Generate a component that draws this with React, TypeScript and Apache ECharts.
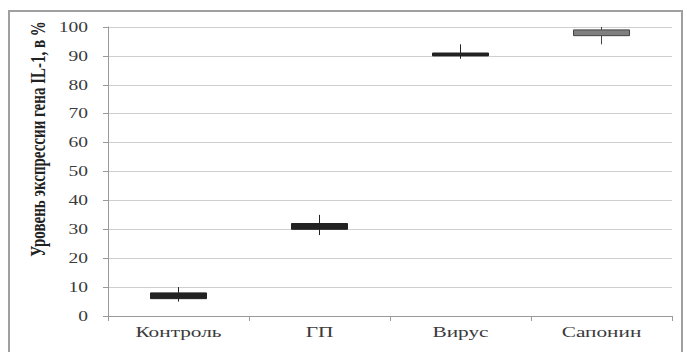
import React, { useEffect, useRef } from "react";
import * as echarts from "echarts";

const categories = ["Контроль", "ГП", "Вирус", "Сапонин"];
// [open (box bottom), close (box top), low (whisker), high (whisker)]
const boxValues: number[][] = [
  [6, 8, 5, 10],
  [30, 32, 28, 35],
  [90, 91, 89, 94],
  [97, 99, 94, 100],
];
const boxColors = ["#222222", "#222222", "#222222", "#7f7f7f"];
const boxBorders = ["#222222", "#222222", "#222222", "#444444"];
const yTickLabels = [0, 10, 20, 30, 40, 50, 60, 70, 80, 90, 100];
const yTicks = { min: 0, max: 100, interval: 10 };
const yTitle = "Уровень экспрессии гена IL-1, в %";

export default function App() {
  const ref = useRef<HTMLDivElement>(null);
  useEffect(() => {
    if (!ref.current) return;
    const chart = echarts.init(ref.current, undefined, { renderer: "svg" });
    const serif = "Liberation Serif";
    chart.setOption({
      animation: false,
      backgroundColor: "#ffffff",
      textStyle: { fontFamily: serif },
      grid: { left: 108, right: 15, top: 27, bottom: 36 },
      xAxis: {
        type: "category",
        data: categories,
        axisLine: { show: true, lineStyle: { color: "#9a9a9a" } },
        axisTick: { show: true, alignWithLabel: false, length: 5, lineStyle: { color: "#9a9a9a" } },
        axisLabel: { show: false },
        splitLine: { show: false },
      },
      yAxis: {
        type: "value",
        min: yTicks.min,
        max: yTicks.max,
        interval: yTicks.interval,
        axisLine: { show: true, lineStyle: { color: "#9a9a9a" } },
        axisTick: { show: true, length: 5, lineStyle: { color: "#9a9a9a" } },
        axisLabel: { show: false },
        splitLine: { show: true, lineStyle: { color: "#cfcfcf", width: 1 } },
      },
      series: [
        {
          type: "candlestick",
          barWidth: 57,
          data: boxValues.map((v, i) => ({
            value: v,
            itemStyle: {
              color: boxColors[i],
              color0: boxColors[i],
              borderColor: boxBorders[i],
              borderColor0: boxBorders[i],
              borderWidth: 1,
            },
          })),
        },
      ],
    });

    const labelStyle = { fontFamily: serif, fontSize: 15, fill: "#3a3a3a" };
    const xLabelY = (chart.convertToPixel({ yAxisIndex: 0 }, 0) as number) + 16;
    const xLabels = categories.map((c, i) => ({
      type: "text",
      id: "xl" + i,
      x: chart.convertToPixel({ xAxisIndex: 0 }, c) as number,
      y: xLabelY,
      scaleX: 1.42,
      style: { ...labelStyle, text: c, align: "center", verticalAlign: "middle" },
      silent: true,
    }));
    const leftX = 108;
    const yLabels = yTickLabels.map((v, i) => ({
      type: "text",
      id: "yl" + i,
      x: leftX - 20,
      y: chart.convertToPixel({ yAxisIndex: 0 }, v) as number,
      scaleX: 1.3,
      style: { ...labelStyle, text: String(v), align: "right", verticalAlign: "middle" },
      silent: true,
    }));
    chart.setOption({
      graphic: [
        {
          type: "rect",
          id: "frame",
          shape: { x: 9, y: 11, width: 673, height: 360 },
          style: { fill: "none", stroke: "#a0a0a0", lineWidth: 2 },
          silent: true,
        },
        {
          type: "text",
          id: "ytitle",
          x: 38,
          y: 139,
          rotation: Math.PI / 2,
          scaleX: 0.75,
          scaleY: 1,
          style: {
            text: yTitle,
            fontFamily: serif,
            fontWeight: "bold",
            fontSize: 20,
            fill: "#222",
            align: "center",
            verticalAlign: "middle",
          },
          silent: true,
        },
        ...xLabels,
        ...yLabels,
      ],
    });
    return () => chart.dispose();
  }, []);
  return <div ref={ref} style={{ width: 687, height: 352, position: "absolute", left: 0, top: 0 }} />;
}
